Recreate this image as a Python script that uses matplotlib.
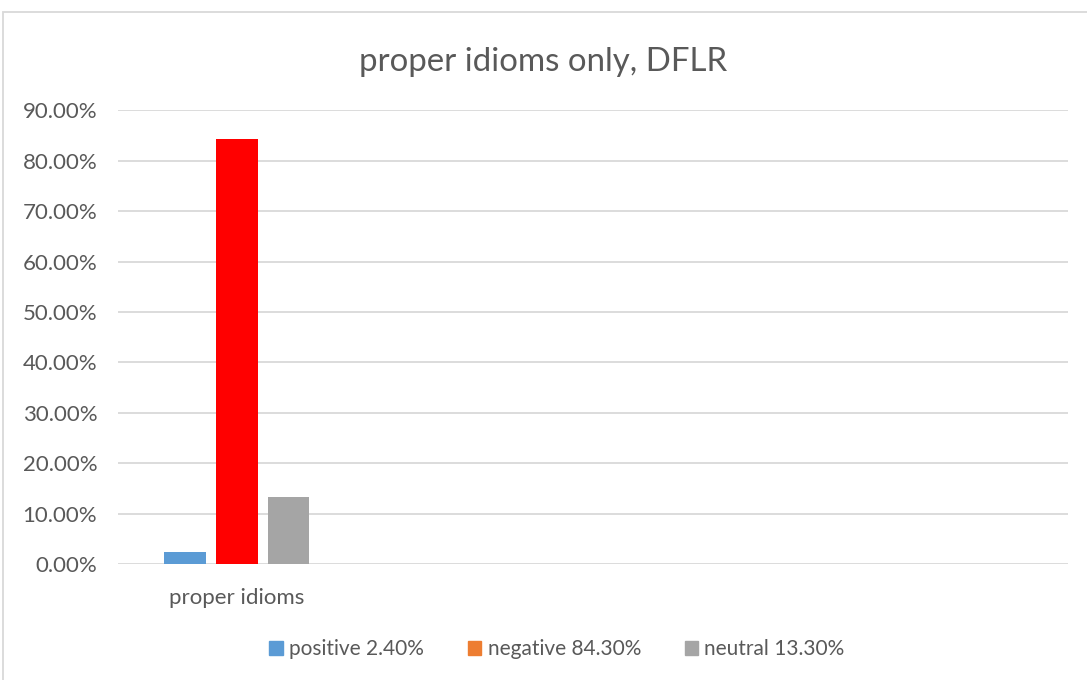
import matplotlib
matplotlib.use("Agg")
import matplotlib.pyplot as plt
from matplotlib.patches import Patch, Rectangle
from matplotlib.ticker import FuncFormatter

# data
categories = ["proper idioms", "", "", ""]
series = ["positive 2.40%", "negative 84.30%", "neutral 13.30%"]
values = [[0.024, None, None, None],
          [0.843, None, None, None],
          [0.133, None, None, None]]
bar_colors = ["#5B9BD5", "#FF0000", "#A5A5A5"]
legend_colors = ["#5B9BD5", "#ED7D31", "#A5A5A5"]
yticks = [0.0, 0.1, 0.2, 0.3, 0.4, 0.5, 0.6, 0.7, 0.8, 0.9]

txt = "#595959"
plt.rcParams["font.family"] = ["Lato", "DejaVu Sans"]

W, H = 1087, 680
fig = plt.figure(figsize=(W / 100, H / 100), dpi=100)
ax = fig.add_axes([118 / W, 1 - 564 / H, (1068 - 118) / W, (564 - 110.4) / H])

width = 42 / 239
step = 52 / 239
for i, (name, vals) in enumerate(zip(series, values)):
    for j, v in enumerate(vals):
        if v is None:
            continue
        ax.bar(j + (i - 1) * step, v, width=width, color=bar_colors[i], zorder=3)

ax.set_xlim(-0.5, len(categories) - 0.5)
ax.set_ylim(0, 0.9)
ax.set_yticks(yticks)
ax.yaxis.set_major_formatter(FuncFormatter(lambda v, p: "%.2f%%" % (v * 100)))
ax.set_xticks(range(len(categories)))
ax.set_xticklabels(categories)
ax.tick_params(length=0, colors=txt, labelsize=16)
ax.tick_params(axis="y", pad=15)
ax.tick_params(axis="x", pad=17)
ax.grid(axis="y", color="#D9D9D9", linewidth=1.3, zorder=0)
for s in ax.spines.values():
    s.set_visible(False)

fig.text(543 / W, 1 - 62 / H, "proper idioms only, DFLR", ha="center", va="center",
         fontsize=23.8, color=txt)

handles = [Patch(color=c) for c in legend_colors]
fig.legend(handles, series, loc="center", bbox_to_anchor=(557 / W, 1 - 649 / H), ncol=3,
           frameon=False, fontsize=15, labelcolor=txt, handlelength=0.65, handleheight=0.65,
           handletextpad=0.3, columnspacing=2.1)

fig.patches.append(Rectangle((3 / W, -0.01), 1.0, 1 - 12 / H + 0.01, transform=fig.transFigure,
                             fill=False, edgecolor="#D9D9D9", linewidth=1.3))

fig.savefig("out.png", dpi=100)
